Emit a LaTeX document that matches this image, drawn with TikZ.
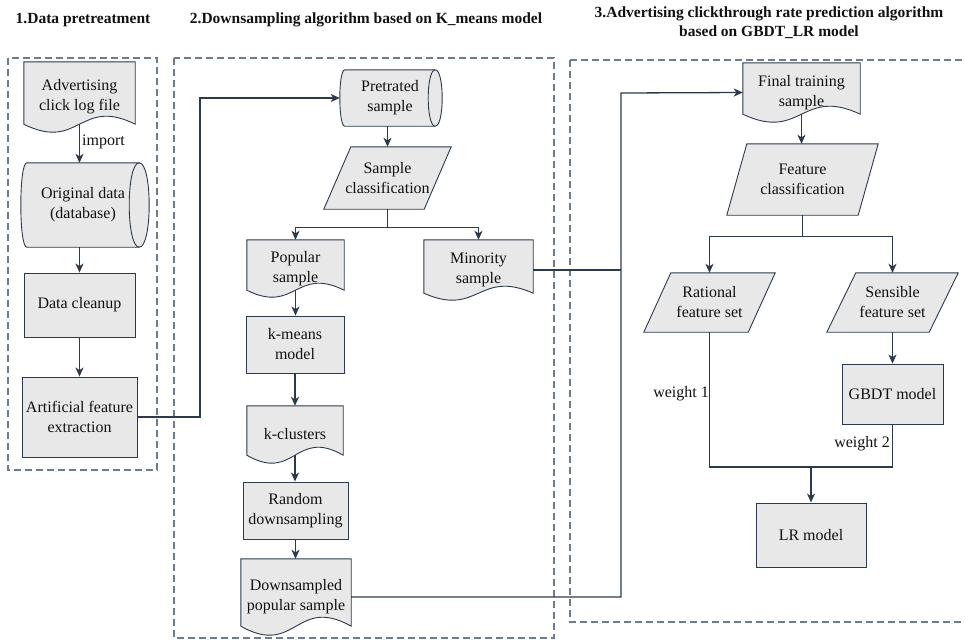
\documentclass[tikz,border=0pt]{standalone}
\usepackage{fontspec}
\setmainfont{Liberation Serif}
\usetikzlibrary{arrows.meta,calc,backgrounds}
\definecolor{ln}{RGB}{45,58,76}
\definecolor{fl}{RGB}{232,232,232}
\definecolor{grp}{RGB}{110,124,140}
\definecolor{txt}{RGB}{17,17,17}
\tikzset{
  base/.style={inner sep=0pt, align=center, text=txt, font=\fontsize{16}{20}\selectfont},
  rbox/.style={base, draw=ln, fill=fl, line width=0.9pt},
  shp/.style={draw=ln, fill=fl, line width=0.9pt},
  shpline/.style={draw=ln, line width=0.9pt},
  lnk/.style={draw=ln, line width=1.3pt},
  arr/.style={lnk, -{Stealth[length=9pt,width=8pt,inset=2.5pt]}},
  grpbox/.style={draw=grp, line width=1.2pt, dash pattern=on 7pt off 4pt},
  ttl/.style={inner sep=0pt, align=center, text=txt, font=\fontsize{15.5}{19}\selectfont\bfseries},
  lbl/.style={inner sep=0pt, text=txt, font=\fontsize{16}{20}\selectfont},
}
% document shape: name, wave half-amplitude a
\newcommand\docshape[2]{%
  \path[shp] (#1.north west) -- ($(#1.south west)+(0,#2)$)
    .. controls ($(#1.south)+(0,#2-3.46*#2)$) and ($(#1.south)+(0,#2+3.46*#2)$) ..
    ($(#1.south east)+(0,#2)$) -- (#1.north east) -- cycle;
  \coordinate (#1-w) at ($(#1.south)+(0,#2)$);}
% horizontal cylinder: name, left rx, right rx
\newcommand\cylshape[3]{%
  \path[shp] (#1.north west) -- (#1.north east)
    .. controls +(1.333*#3,0) and +(1.333*#3,0) .. (#1.south east)
    -- (#1.south west)
    .. controls +(-1.333*#2,0) and +(-1.333*#2,0) .. (#1.north west) -- cycle;
  \path[shpline] (#1.north east) .. controls +(-1.333*#3,0) and +(-1.333*#3,0) .. (#1.south east);
  \coordinate (#1-l) at ($(#1.west)+(-#2,0)$);}
% parallelogram: name, slant
\newcommand\parashape[2]{%
  \path[shp] ($(#1.north west)+(#2,0)$) -- (#1.north east)
    -- ($(#1.south east)+(-#2,0)$) -- (#1.south west) -- cycle;}
\begin{document}
\begin{tikzpicture}[x=1pt,y=1pt]
\useasboundingbox (0,0) rectangle (965,-641);
% titles
\node[ttl] (t1) at (83,-20) {1.Data pretreatment};
\node[ttl] (t2) at (366,-20) {2.Downsampling algorithm based on K\_means model};
\node[ttl] (t3) at (769,-23) {3.Advertising clickthrough rate prediction algorithm\\based on GBDT\_LR model};
% group boxes
\draw[grpbox] (8,-58) rectangle (157,-470);
\draw[grpbox] (174,-58) rectangle (554,-638);
\draw[grpbox] (570,-60) rectangle (985,-622);
% nodes - part 1
\node[base, minimum width=111pt, minimum height=70pt] (log) at (79.5,-97) {Advertising\\click log file};
\node[base, minimum width=112pt, minimum height=84pt] (orig) at (83,-205) {Original data\\(database)};
\node[rbox, minimum width=111pt, minimum height=64pt] (clean) at (79.5,-305) {Data cleanup};
\node[rbox, minimum width=115pt, minimum height=80pt] (art) at (79.5,-417) {Artificial feature\\extraction};
% part 2
\node[base, minimum width=90pt, minimum height=56pt] (pre) at (390,-98) {Pretrated\\sample};
\node[base, minimum width=127pt, minimum height=62pt] (sc) at (387.5,-178) {Sample\\classification};
\node[base, minimum width=97pt, minimum height=57pt] (pop) at (295.5,-268.5) {Popular\\sample};
\node[base, minimum width=109pt, minimum height=60pt] (min) at (478.5,-270) {Minority\\sample};
\node[rbox, minimum width=98pt, minimum height=57pt] (km) at (295,-344.5) {k-means\\model};
\node[base, minimum width=96pt, minimum height=57pt] (kc) at (295,-434.5) {k-clusters};
\node[rbox, minimum width=105pt, minimum height=57pt] (rd) at (295.5,-510.5) {Random\\downsampling};
\node[base, minimum width=110pt, minimum height=76pt] (ds) at (296,-597) {Downsampled\\popular sample};
% part 3
\node[base, minimum width=117pt, minimum height=59pt] (fin) at (801.5,-92.5) {Final training\\sample};
\node[base, minimum width=151pt, minimum height=71pt] (fc) at (802.5,-179.5) {Feature\\classification};
\node[base, minimum width=131pt, minimum height=59pt] (rat) at (709.5,-302.5) {Rational\\feature set};
\node[base, minimum width=131pt, minimum height=59pt] (sen) at (892.5,-302.5) {Sensible\\feature set};
\node[rbox, minimum width=101pt, minimum height=60pt] (gbdt) at (892.5,-394) {GBDT model};
\node[rbox, minimum width=110pt, minimum height=64pt] (lr) at (811,-535) {LR model};
% shapes behind the text
\begin{scope}[on background layer]
\docshape{log}{8}
\cylshape{orig}{6}{10}
\cylshape{pre}{5}{7}
\parashape{sc}{27}
\docshape{pop}{7}
\docshape{min}{7}
\docshape{kc}{8}
\docshape{ds}{9}
\docshape{fin}{8}
\parashape{fc}{20}
\parashape{rat}{27}
\parashape{sen}{29}
\end{scope}
% labels
\node[lbl, anchor=west] (imp) at (82,-142) {import};
\node[lbl, anchor=east] (w1) at (709,-394) {weight 1};
\node[lbl, anchor=east] (w2) at (890,-444) {weight 2};
% connectors part 1
\draw[arr] (log-w) -- (log-w |- orig.north);
\draw[arr] (clean.north |- orig.south) -- (clean.north);
\draw[arr] (clean.south) -- (art.north);
\coordinate (b1) at (200,-417);
\draw[arr] (art.east) -- (b1) |- (pre-l);
% part 2
\draw[arr] (sc.north |- pre.south) -- (sc.north);
\draw[lnk] (sc.south) -- ++(0,-18) coordinate (j1);
\draw[arr] (j1) -| (pop.north);
\draw[arr] (j1) -| (min.north);
\draw[arr] (pop-w) -- (pop-w |- km.north);
\draw[arr] (kc.north |- km.south) -- (kc.north);
\draw[arr] (kc-w) -- (kc-w |- rd.north);
\draw[arr] (rd.south) -- (rd.south |- ds.north);
% bus to part 3
\coordinate (bt) at (621,-93);
\draw[lnk] (min.east) -- (min.east -| bt);
\draw[arr] (ds.east) -| (bt) -- (fin.west);
% part 3
\draw[arr] (fin-w) -- (fin-w |- fc.north);
\draw[lnk] (fc.south) -- ++(0,-21) coordinate (j2);
\draw[arr] (j2) -| (rat.north);
\draw[arr] (j2) -| (sen.north);
\draw[arr] (sen.south) -- (gbdt.north);
\coordinate (j3) at (811,-467);
\draw[lnk] (rat.south) |- (j3) -| (gbdt.south);
\draw[arr] (j3) -- (lr.north);
\end{tikzpicture}
\end{document}
